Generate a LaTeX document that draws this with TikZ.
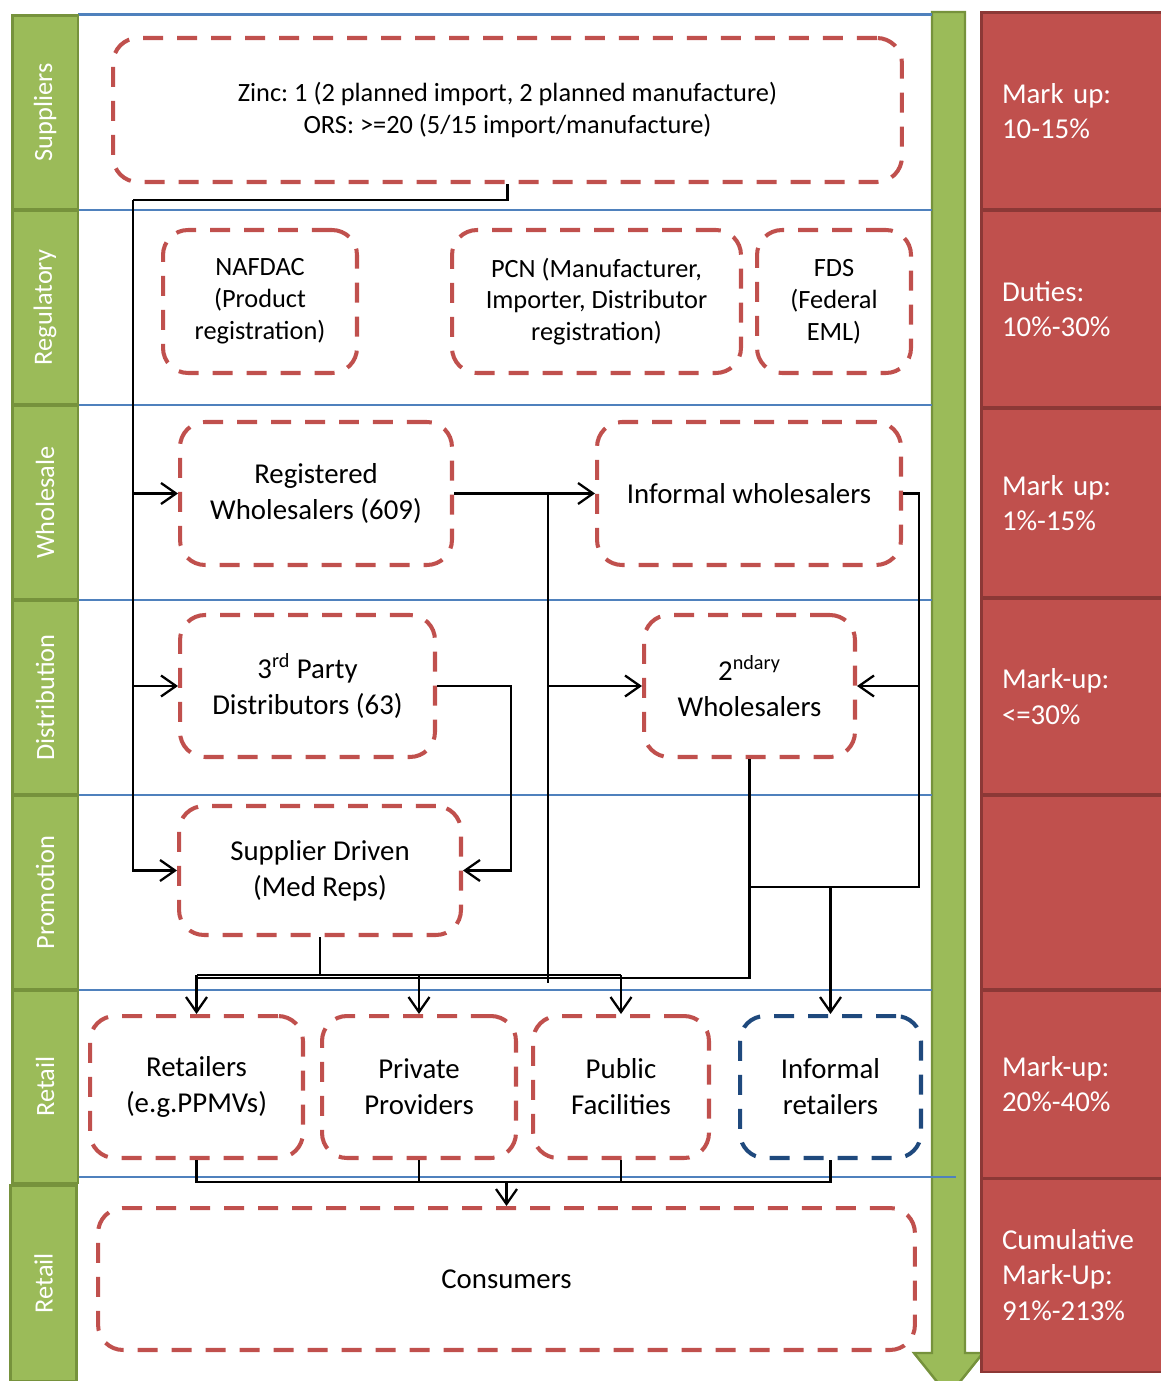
\documentclass[tikz,border=0pt]{standalone}
\usepackage{fontspec}
\setmainfont{Carlito}
\usepackage{xcolor}
\usepackage{tikz}
\usetikzlibrary{arrows.meta,positioning,calc}
\definecolor{lanegreen}{HTML}{9BBB59}
\definecolor{laneborder}{HTML}{76923C}
\definecolor{markred}{HTML}{C0504D}
\definecolor{markborder}{HTML}{8C3836}
\definecolor{ruleblue}{HTML}{4F81BD}
\definecolor{infblue}{HTML}{1F497D}
\frenchspacing
\tikzset{
    lane/.style={
        rectangle, fill=lanegreen, draw=laneborder, line width=1.7pt,
        rotate=90, minimum height=1.32cm, inner sep=0pt,
        text=white, font=\fontsize{15}{18}\selectfont
    },
    markup/.style={
        rectangle, fill=markred, draw=markborder, line width=1.7pt,
        text width=2.8cm, inner xsep=0.42cm, align=left,
        text=white, font=\fontsize{16.4}{20.2}\selectfont
    },
    stage/.style={
        rectangle, rounded corners=0.5cm, draw=markred, line width=2.3pt,
        dash pattern=on 0.4cm off 0.28cm,
        align=center, font=\fontsize{16.4}{20.4}\selectfont
    },
    agency/.style={stage, font=\fontsize{15}{18.1}\selectfont},
    lanerule/.style={draw=ruleblue, line width=1.1pt},
    conn/.style={draw, line width=1.3pt},
    connarrow/.style={conn, -{Straight Barb[length=0.3cm, width=0.42cm]}}
}

\begin{document}
\begin{tikzpicture}[x=0.02cm, y=-0.02cm]
\useasboundingbox (0,0) rectangle (1160,1381);

%% green flow arrow down the right side (shaft x=932..965)
\draw[fill=lanegreen, draw=laneborder, line width=1.4pt]
    (932,12) -- (965,12) -- (965,1353) -- (983,1353) -- (948.5,1396)
    -- (914,1353) -- (932,1353) -- cycle;

%% blue lane dividers
\draw[lanerule, line width=1.7pt] (78,15) -- (932,15);
\foreach \yy in {210,405,600,795}
    \draw[lanerule] (78,\yy) -- (932,\yy);
\draw[lanerule] (65,990) -- (932,990);
\draw[lanerule] (70,1177) -- (956,1177);

%% left lane labels, x=12..78
\node[lane, minimum width=3.9cm]  (lsup)  at (45,112.5)  {Suppliers};
\node[lane, minimum width=3.9cm]  (lreg)  at (45,307.5)  {Regulatory};
\node[lane, minimum width=3.9cm]  (lwhs)  at (45,502.5)  {Wholesale};
\node[lane, minimum width=3.9cm]  (ldist) at (45,697.5)  {Distribution};
\node[lane, minimum width=3.9cm]  (lprom) at (45,892.5)  {Promotion};
\node[lane, minimum width=3.86cm] (lret)  at (45,1086.5) {Retail};
\node[lane, minimum width=3.92cm] (lcons) at (43.5,1283) {Retail};

%% right mark-up column, x=981..1163
\node[markup, minimum height=3.96cm] (mu1) at (1072,111)   {Mark up:\\10-15\%};
\node[markup, minimum height=3.96cm] (mu2) at (1072,309)   {Duties:\\10\%-30\%};
\node[markup, minimum height=3.8cm]  (mu3) at (1072,503)   {Mark up:\\1\%-15\%};
\node[markup, minimum height=3.94cm] (mu4) at (1072,696.5) {Mark-up:\\<=30\%};
\node[markup, minimum height=3.9cm]  (mu5) at (1072,892.5) {};
\node[markup, minimum height=3.76cm] (mu6) at (1072,1084)  {Mark-up:\\20\%-40\%};
\node[markup, minimum height=3.88cm] (mu7) at (1072,1275)  {Cumulative\\Mark-Up:\\91\%-213\%};

%% Row 1 - suppliers
\node[agency, minimum width=15.78cm, minimum height=2.88cm] (supply) at (507.5,110)
    {Zinc: 1 (2 planned import, 2 planned manufacture)\\ORS: >=20 (5/15 import/manufacture)};

%% Row 2 - regulators
\node[agency, minimum width=3.88cm, minimum height=2.86cm] (nafdac) at (260,301.5)
    {NAFDAC\\(Product\\registration)};
\node[agency, minimum width=5.78cm, minimum height=2.86cm] (pcn)    at (596.5,301.5)
    {PCN (Manufacturer,\\Importer, Distributor\\registration)};
\node[agency, minimum width=3.08cm, minimum height=2.86cm] (fds)    at (834,301.5)
    {FDS\\(Federal\\EML)};

%% Row 3 - wholesale
\node[stage, minimum width=5.44cm, minimum height=2.86cm] (regwh) at (316,493.5)
    {Registered\\Wholesalers (609)};
\node[stage, minimum width=6.08cm, minimum height=2.86cm] (infwh) at (749,493.5)
    {Informal wholesalers};

%% Row 4 - distribution
\node[stage, minimum width=5.1cm, minimum height=2.84cm]  (dist3) at (307.5,686)
    {3\textsuperscript{rd} Party\\Distributors (63)};
\node[stage, minimum width=4.22cm, minimum height=2.84cm] (sec)   at (749.5,686)
    {2\textsuperscript{ndary}\\Wholesalers};

%% Row 5 - promotion
\node[stage, minimum width=5.64cm, minimum height=2.58cm] (suppdr) at (320,870.5)
    {Supplier Driven\\(Med Reps)};

%% Row 6 - retail
\node[stage, minimum width=4.26cm, minimum height=2.84cm] (retail) at (196.5,1087)
    {Retailers\\(e.g.PPMVs)};
\node[stage, minimum width=3.88cm, minimum height=2.84cm] (priv)   at (419,1087)
    {Private\\Providers};
\node[stage, minimum width=3.52cm, minimum height=2.84cm] (pub)    at (621,1087)
    {Public\\Facilities};
\node[stage, draw=infblue, minimum width=3.62cm, minimum height=2.84cm] (infret) at (830.5,1087)
    {Informal\\retailers};

%% Row 7 - consumers
\node[stage, minimum width=16.34cm, minimum height=2.84cm] (cons) at (506.5,1279)
    {Consumers};

%% supplier feed down the left trunk
\coordinate (trunk) at (133,200);
\draw[conn] (supply.south) |- (trunk);
\draw[connarrow] (trunk) |- (suppdr.west);
\draw[connarrow] (trunk |- regwh.west) -- (regwh.west);
\draw[connarrow] (trunk |- dist3.west) -- (dist3.west);

%% registered -> informal, and split down to retail
\coordinate (split) at (548,983);
\draw[connarrow] (regwh.east) -- (infwh.west);
\draw[conn] (split |- regwh.east) -- (split);
\draw[connarrow] (split |- sec.west) -- (sec.west);

%% informal wholesalers loop on the right
\coordinate (loop) at (919,887);
\draw[connarrow] (infwh.east) -| (loop) -| (infret.north);
\draw[connarrow] (loop |- sec.east) -- (sec.east);

%% 2ndary wholesalers down to the retail bus
\coordinate (busA) at (197,975);
\coordinate (busB) at (197,978);
\draw[conn] (sec.south) |- (busB);
\draw[conn] (sec.south |- loop) -- (loop -| infret.north);

%% distributors -> promotion
\draw[connarrow] (dist3.east) -- ++(74,0) |- (suppdr.east);

%% promotion -> retail
\draw[conn] (suppdr.south) -- (suppdr.south |- busA);
\draw[conn] (busA) -- (busA -| pub.north);
\draw[connarrow] (busA -| retail.north) -- (retail.north);
\draw[connarrow] (busA -| priv.north) -- (priv.north);
\draw[connarrow] (busA -| pub.north) -- (pub.north);

%% retail -> consumers
\coordinate (cbus) at (506.5,1182);
\draw[conn] (retail.south) |- (cbus -| infret.south) -- (infret.south);
\draw[conn] (priv.south) -- (priv.south |- cbus);
\draw[conn] (pub.south) -- (pub.south |- cbus);
\draw[connarrow] (cbus) -- (cons.north);

\end{tikzpicture}
\end{document}
